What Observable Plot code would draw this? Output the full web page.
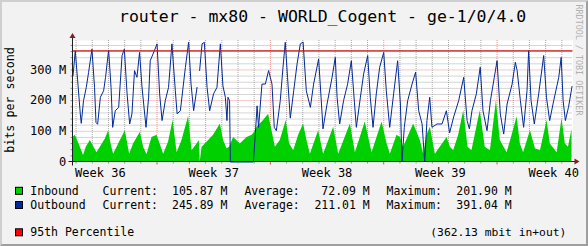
<!DOCTYPE html>
<html><head><meta charset="utf-8">
<script src="https://cdn.jsdelivr.net/npm/d3@7"></script>
<script src="https://cdn.jsdelivr.net/npm/@observablehq/plot@0.6"></script>
<style>
html,body{margin:0;padding:0;background:#f2f2f2;}
#wrap{position:relative;width:588px;height:246px;overflow:hidden;background:#f2f2f2;}
#wrap svg{display:block;}
</style></head><body>
<div id="wrap"></div>
<script>
// ---- data (time in days from the left edge of the graph, values in Mbit/s) ----
const titleText = "router - mx80 - WORLD_Cogent - ge-1/0/4.0";
const yAxisLabel = "bits per second";
const watermark = "RRDTOOL / TOBI OETIKER";

const inboundDay = [0.00,0.14,0.28,0.45,0.65,0.82,1.07,1.48,1.69,2.00,
  2.20,2.35,2.51,2.82,3.23,3.50,3.74,4.16,4.36,4.57,
  4.88,5.19,5.60,5.90,6.18,6.43,6.73,7.14,7.35,7.66,
  7.80,7.86,7.97,8.17,8.68,9.10,9.30,9.51,9.67,9.92,
  10.33,10.75,11.06,11.20,11.37,11.77,12.08,12.29,12.50,12.80,
  13.17,13.38,13.63,13.93,14.24,14.45,14.66,15.17,15.48,16.10,
  16.41,17.13,17.44,18.05,18.47,19.09,19.40,19.60,20.01,20.22,
  20.42,21.04,21.45,21.66,21.86,22.07,22.38,23.10,23.31,23.51,
  23.82,24.13,24.40,24.64,25.15,25.46,25.78,26.15,26.39,26.81,
  27.12,27.43,27.63,27.83,28.25,28.56,28.87,29.28,29.48,29.90,
  30.20,30.41,30.60,30.82];
const inboundM = [80,87,70,48,21,48,70,30,48,75,
  102,59,25,59,102,25,59,97,48,24,
  80,87,25,64,135,30,70,148,37,59,
  70,null,48,59,87,124,70,43,48,80,
  59,80,87,95,113,135,156,102,48,70,
  135,59,37,86,124,70,25,102,25,113,
  25,124,30,130,30,130,59,25,87,80,
  48,124,70,25,87,113,25,80,48,37,
  87,167,48,37,167,48,37,200,70,30,
  87,147,59,30,102,43,37,135,59,30,
  140,59,48,106];

const outboundDay = [0.00,0.14,0.28,0.45,0.51,0.65,0.82,0.96,1.17,1.33,
  1.42,1.52,1.69,1.89,2.01,2.20,2.35,2.45,2.61,2.82,
  3.03,3.17,3.34,3.50,3.64,3.80,3.95,4.11,4.26,4.51,
  4.67,4.77,5.02,5.19,5.35,5.50,5.70,5.90,6.11,6.32,
  6.43,6.63,6.94,7.14,7.29,7.45,7.66,7.74,7.82,7.97,
  8.11,8.28,8.44,8.68,8.89,9.10,9.26,9.41,9.51,9.57,
  9.67,9.72,11.14,11.26,11.37,11.46,11.67,11.88,12.08,12.29,
  12.43,12.56,12.80,12.97,13.11,13.25,13.42,13.63,13.84,14.04,
  14.21,14.41,14.66,14.86,15.17,15.32,15.44,15.69,16.00,16.20,
  16.31,16.47,16.71,16.96,17.19,17.38,17.50,17.75,17.95,18.20,
  18.36,18.53,18.73,18.94,19.19,19.35,19.56,19.80,20.05,20.22,
  20.32,20.46,20.67,20.94,21.16,21.35,21.56,21.72,21.86,22.03,
  22.17,22.48,22.79,23.06,23.26,23.51,23.82,24.13,24.34,24.48,
  24.64,24.91,25.15,25.32,25.57,25.78,26.02,26.19,26.39,26.60,
  26.81,27.12,27.32,27.43,27.63,27.83,28.04,28.14,28.29,28.49,
  28.76,29.07,29.24,29.44,29.69,30.00,30.15,30.27,30.41,30.60,
  30.82];
const outboundM = [281,362,270,157,126,200,243,291,368,243,
  129,123,211,232,276,365,243,113,167,178,
  347,368,222,124,157,298,276,357,245,113,
  211,330,362,385,222,135,200,243,385,232,
  157,167,308,390,254,167,243,null,298,385,
  390,243,167,222,243,385,248,211,135,211,
  200,0,0,91,183,113,254,254,298,254,
  113,102,200,309,390,276,143,232,320,385,
  391,232,178,254,336,211,108,189,276,341,
  211,124,200,254,330,195,113,211,287,347,
  211,113,222,309,357,232,113,222,330,189,
  0,113,200,254,293,167,124,0,135,211,
  113,124,124,167,95,147,200,276,135,108,
  167,222,309,167,102,200,276,330,157,91,
  189,254,325,298,200,113,232,363,200,124,
  222,347,211,135,200,276,341,200,135,178,
  246];

const percentile95 = 362.13;
const timeSpan = [0, 30.88];
const valueSpan = [0, 396];

// ---- axes / ticks ----
const yTicks = [0, 100, 200, 300];
const yMajor = [100, 200, 300];
const yMinor = [20,40,60,80,120,140,160,180,220,240,260,280,320,340,360,380];
const weekStarts = [5.19, 12.19, 19.19, 26.19];
const weekMids = [1.69, 8.69, 15.69, 22.69, 29.69];
const weekLabels = ["Week 36", "Week 37", "Week 38", "Week 39", "Week 40"];
const dayLines = d3.range(0.19, 30.88, 1).filter(d => !weekStarts.some(w => Math.abs(w - d) < 0.01));

// ---- legend ----
const legendNames = ["Inbound", "Outbound"];
const legendColors = ["#00CF00", "#002A97"];
const currentVals = ["105.87 M", "245.89 M"];
const averageVals = ["72.09 M", "211.01 M"];
const maximumVals = ["201.90 M", "391.04 M"];
const pctName = "95th Percentile";
const pctColor = "#FF0000";
const pctNote = "(362.13 mbit in+out)";

const inbound = inboundDay.map((t, i) => ({t, v: inboundM[i]}));
const outbound = outboundDay.map((t, i) => ({t, v: outboundM[i]}));

const MONO = "DejaVu Sans Mono";
const gridC = "#8f8f8f", mgridC = "#de4f4f";

const plot = Plot.plot({
  width: 588, height: 246,
  marginLeft: 72.5, marginRight: 15.5, marginTop: 40, marginBottom: 84.5,
  x: {domain: timeSpan, axis: null},
  y: {domain: valueSpan, axis: null},
  style: {background: "#f2f2f2", fontFamily: MONO, fontSize: "12px", color: "#000"},
  marks: [
    Plot.frame({fill: "#ffffff", stroke: null}),
    Plot.gridX(dayLines, {stroke: gridC, strokeOpacity: 0.75, strokeDasharray: "1,1"}),
    Plot.gridY(yMinor, {stroke: gridC, strokeOpacity: 0.75, strokeDasharray: "1,1"}),
    Plot.gridX(weekStarts, {stroke: mgridC, strokeOpacity: 0.6, strokeDasharray: "1,1"}),
    Plot.gridY(yMajor, {stroke: mgridC, strokeOpacity: 0.6, strokeDasharray: "1,1"}),
    Plot.areaY(inbound, {x: "t", y: "v", fill: "#00CF00"}),
    Plot.line(outbound, {x: "t", y: "v", stroke: "#002A97", strokeWidth: 1}),
    Plot.ruleY([percentile95], {stroke: "#c81414", strokeWidth: 1.3}),
    Plot.axisY(yMinor.concat(yMajor), {tickSize: 2, tickFormat: () => "", stroke: gridC, label: null}),
    Plot.axisY(yTicks, {tickSize: 0, tickPadding: 6.8, tickFormat: d => d === 0 ? "0" : d + " M", fill: "#000", label: null}),
    Plot.axisX(dayLines, {tickSize: 2, tickFormat: () => "", stroke: gridC, label: null}),
    Plot.axisX(weekStarts, {tickSize: 3, tickFormat: () => "", stroke: mgridC, label: null}),
    Plot.axisX(weekMids, {tickSize: 0, tickPadding: 6, tickFormat: d => weekLabels[weekMids.indexOf(d)], fill: "#000", label: null})
  ]
});

document.getElementById("wrap").appendChild(plot);

const svg = d3.select(plot);
const X = plot.scale("x"), Y = plot.scale("y");
const x0 = X.apply(timeSpan[0]), x1 = X.apply(timeSpan[1]);
const y0 = Y.apply(0), yT = Y.apply(valueSpan[1]);

// axes with arrows
const ax = svg.append("g");
ax.append("line").attr("x1", x0 - 4).attr("x2", x1 + 4).attr("y1", y0).attr("y2", y0)
  .attr("stroke", "#1f1f1f").attr("stroke-width", 1);
ax.append("line").attr("x1", x0).attr("x2", x0).attr("y1", y0 + 4).attr("y2", yT - 4)
  .attr("stroke", "#1f1f1f").attr("stroke-width", 1);
ax.append("path").attr("d", `M${x1 + 2},${y0 - 3}L${x1 + 2},${y0 + 3}L${x1 + 7},${y0}Z`).attr("fill", "#801f1f");
ax.append("path").attr("d", `M${x0 - 3},${yT - 2}L${x0 + 3},${yT - 2}L${x0},${yT - 7}Z`).attr("fill", "#801f1f");

const txt = (sel) => sel.attr("text-anchor", "start").style("font-family", MONO);

// title
txt(svg.append("text")).attr("x", 119).attr("y", 22)
  .style("font-size", "16.5px").attr("fill", "#000")
  .text(titleText);

// y label
svg.append("text").attr("transform", "translate(13.5,100) rotate(-90)")
  .attr("text-anchor", "middle")
  .style("font-family", MONO).style("font-size", "11.7px").attr("fill", "#000")
  .text(yAxisLabel);

// watermark
svg.append("text").attr("transform", "translate(576,60) rotate(90)")
  .attr("text-anchor", "middle")
  .style("font-family", MONO).style("font-size", "8.4px").attr("fill", "#b0b0b0")
  .text(watermark);

// legend
const lg = svg.append("g").attr("text-anchor", "start").style("font-family", MONO).style("font-size", "11.5px").attr("fill", "#000");
const rowY = [190.8, 205];
legendNames.forEach((name, i) => {
  const cy = rowY[i];
  lg.append("rect").attr("x", 15.5).attr("y", cy - 3.5).attr("width", 7).attr("height", 7)
    .attr("fill", legendColors[i]).attr("stroke", "#000").attr("stroke-width", 1);
  const b = cy + 4;
  txt(lg.append("text")).attr("x", 30.3).attr("y", b).text(name);
  txt(lg.append("text")).attr("x", 102.6).attr("y", b).text("Current:");
  txt(lg.append("text")).attr("x", 172).attr("y", b).text(currentVals[i]);
  txt(lg.append("text")).attr("x", 244.4).attr("y", b).text("Average:");
  lg.append("text").attr("x", 369.8).attr("y", b).attr("text-anchor", "end").style("font-family", MONO).text(averageVals[i]);
  txt(lg.append("text")).attr("x", 386.6).attr("y", b).text("Maximum:");
  txt(lg.append("text")).attr("x", 456.3).attr("y", b).text(maximumVals[i]);
});
{
  const cy = 232.3;
  lg.append("rect").attr("x", 15.5).attr("y", cy - 3.5).attr("width", 7).attr("height", 7)
    .attr("fill", pctColor).attr("stroke", "#000").attr("stroke-width", 1);
  txt(lg.append("text")).attr("x", 30.3).attr("y", cy + 4).text(pctName);
  txt(lg.append("text")).attr("x", 430.3).attr("y", cy + 4).style("font-size", "11.3px").text(pctNote);
}

// 3D border
const bd = svg.append("g");
bd.append("path").attr("d", "M0,0H588L586,2H2V244L0,246Z").attr("fill", "#cfcfcf");
bd.append("path").attr("d", "M588,0V246H0L2,244H586V2Z").attr("fill", "#9e9e9e");
</script>
</body></html>
